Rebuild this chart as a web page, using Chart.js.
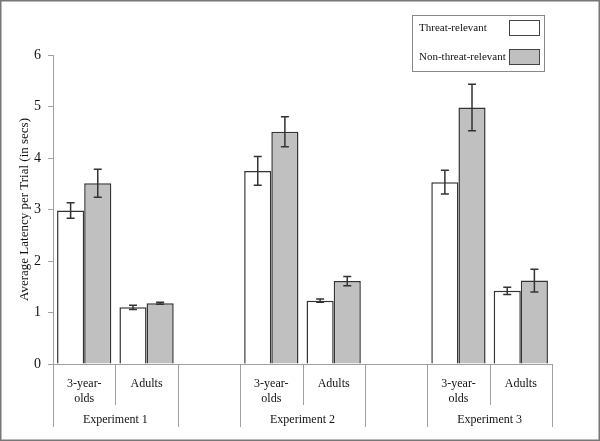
<!DOCTYPE html>
<html lang="en">
<head>
  <meta charset="UTF-8" />
  <title>Average Latency per Trial</title>
  <script src="https://cdn.jsdelivr.net/npm/chart.js"></script>
  <style>
    body { margin: 0; background: #fff; }
    canvas { display: block; }
  </style>
</head>
<body>
  <canvas id="latencyChart" width="600" height="441"></canvas>

  <script>
    const categories = [['3-year-', 'olds'], 'Adults', '', ['3-year-', 'olds'], 'Adults', '', ['3-year-', 'olds'], 'Adults'];
    const experiments = ['Experiment 1', 'Experiment 2', 'Experiment 3'];
    const threatMeans = [2.98, 1.10, null, 3.75, 1.23, null, 3.53, 1.42];
    const threatErrors = [0.15, 0.04, null, 0.28, 0.03, null, 0.23, 0.07];
    const nonThreatMeans = [3.51, 1.18, null, 4.51, 1.61, null, 4.98, 1.62];
    const nonThreatErrors = [0.27, 0.02, null, 0.29, 0.09, null, 0.45, 0.22];
    const yTicks = [0, 1, 2, 3, 4, 5, 6];

    const serif = '"Liberation Serif", "DejaVu Serif", serif';
    const axisGray = '#a0a0a0';

    // error bars on top of each bar
    const errorBars = {
      id: 'errorBars',
      afterDatasetsDraw(chart) {
        const ctx = chart.ctx;
        const y = chart.scales.y;
        ctx.save();
        ctx.strokeStyle = '#333';
        ctx.lineWidth = 1.5;
        chart.data.datasets.forEach((ds, i) => {
          const meta = chart.getDatasetMeta(i);
          meta.data.forEach((bar, j) => {
            const m = ds.data[j], e = ds.errors[j];
            if (m == null || e == null) return;
            const top = y.getPixelForValue(m + e);
            const bot = y.getPixelForValue(m - e);
            ctx.beginPath();
            ctx.moveTo(bar.x, top); ctx.lineTo(bar.x, bot);
            ctx.moveTo(bar.x - 4, top); ctx.lineTo(bar.x + 4, top);
            ctx.moveTo(bar.x - 4, bot); ctx.lineTo(bar.x + 4, bot);
            ctx.stroke();
          });
        });
        ctx.restore();
      }
    };

    // category dividers, experiment labels, legend box and frame
    const decorations = {
      id: 'decorations',
      afterDraw(chart) {
        const ctx = chart.ctx;
        const x = chart.scales.x;
        const base = chart.chartArea.bottom;
        const slot = x.getPixelForValue(1) - x.getPixelForValue(0);
        const edge = i => x.getPixelForValue(0) - slot / 2 + i * slot;
        ctx.save();
        ctx.strokeStyle = axisGray;
        ctx.lineWidth = 1;
        for (let i = 0; i <= categories.length; i++) {
          const short = (i % 3 === 1);
          const px = Math.round(edge(i)) + 0.5;
          ctx.beginPath();
          ctx.moveTo(px, base);
          ctx.lineTo(px, short ? base + 41 : base + 63);
          ctx.stroke();
        }
        ctx.fillStyle = '#111';
        ctx.font = '12px ' + serif;
        ctx.textAlign = 'center';
        ctx.textBaseline = 'middle';
        experiments.forEach((name, k) => {
          ctx.fillText(name, (edge(k * 3) + edge(k * 3 + 2)) / 2, base + 56);
        });

        // legend
        ctx.strokeStyle = '#888';
        ctx.strokeRect(412.5, 15.5, 132, 56);
        ctx.font = '11px ' + serif;
        ctx.textAlign = 'left';
        chart.data.datasets.forEach((ds, i) => {
          const cy = 28 + i * 29;
          ctx.fillStyle = '#111';
          ctx.fillText(ds.label, 419, cy);
          ctx.fillStyle = ds.backgroundColor;
          ctx.fillRect(509, cy - 8, 30, 15);
          ctx.strokeStyle = '#444';
          ctx.strokeRect(509.5, cy - 7.5, 30, 15);
        });

        // outer frame
        ctx.strokeStyle = '#777';
        ctx.lineWidth = 1.5;
        ctx.strokeRect(0.75, 0.75, 598.5, 439.5);
        ctx.restore();
      }
    };

    new Chart(document.getElementById('latencyChart'), {
      type: 'bar',
      data: {
        labels: categories,
        datasets: [
          {
            label: 'Threat-relevant',
            data: threatMeans,
            errors: threatErrors,
            backgroundColor: '#ffffff',
            borderColor: '#333',
            borderWidth: 1.5,
            categoryPercentage: 0.87,
            barPercentage: 1.0
          },
          {
            label: 'Non-threat-relevant',
            data: nonThreatMeans,
            errors: nonThreatErrors,
            backgroundColor: '#c0c0c0',
            borderColor: '#333',
            borderWidth: 1.5,
            categoryPercentage: 0.87,
            barPercentage: 1.0
          }
        ]
      },
      options: {
        responsive: false,
        animation: false,
        layout: { padding: { left: 0, top: 55, right: 48, bottom: 0 } },
        plugins: {
          legend: { display: false },
          tooltip: { enabled: false }
        },
        scales: {
          x: {
            grid: { display: false },
            border: { color: axisGray, width: 1 },
            ticks: {
              color: '#111',
              padding: 4,
              maxRotation: 0,
              autoSkip: false,
              font: { family: serif, size: 12, lineHeight: 1.25 }
            },
            afterFit(scale) { scale.height = 77; }
          },
          y: {
            min: 0,
            max: 6,
            afterBuildTicks(scale) { scale.ticks = yTicks.map(v => ({ value: v })); },
            grid: { drawOnChartArea: false, tickLength: 5, color: axisGray },
            border: { color: axisGray, width: 1 },
            ticks: {
              color: '#111',
              padding: 7,
              font: { family: serif, size: 14 }
            },
            title: {
              display: true,
              text: 'Average Latency per Trial (in secs)',
              color: '#111',
              font: { family: serif, size: 13 },
              padding: { top: 17, bottom: 0 }
            },
            afterFit(scale) { scale.width = 53; }
          }
        }
      },
      plugins: [errorBars, decorations]
    });
  </script>
</body>
</html>
